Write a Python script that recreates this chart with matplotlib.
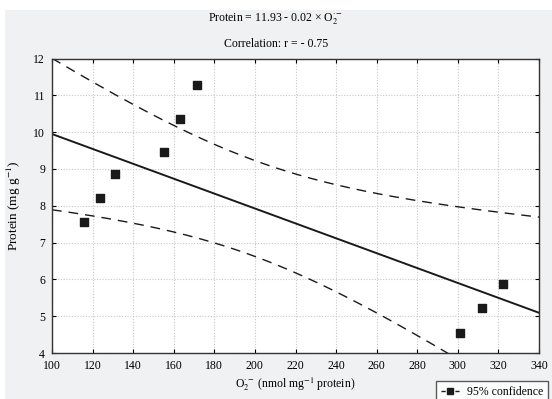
import numpy as np
import matplotlib.pyplot as plt
from matplotlib.lines import Line2D
from matplotlib.patches import Rectangle

plt.rcParams['font.family'] = 'Liberation Serif'
plt.rcParams['mathtext.fontset'] = 'stix'

# data
o2 = [115.8, 123.6, 131.0, 155.2, 163.1, 171.6, 301.1, 311.9, 322.2]
protein = [7.57, 8.22, 8.87, 9.46, 10.37, 11.27, 4.55, 5.23, 5.88]
x_ticks = [100, 120, 140, 160, 180, 200, 220, 240, 260, 280, 300, 320, 340]
y_ticks = [4, 5, 6, 7, 8, 9, 10, 11, 12]

x = np.array(o2)
y = np.array(protein)
n = len(x)
slope, intercept = np.polyfit(x, y, 1)
xs = np.linspace(100, 340, 300)
fit = intercept + slope * xs
resid = y - (intercept + slope * x)
s = np.sqrt(np.sum(resid ** 2) / (n - 2))
t = 2.3646  # t(0.975, df=7)
se = s * np.sqrt(1 / n + (xs - x.mean()) ** 2 / np.sum((x - x.mean()) ** 2))

fig = plt.figure(figsize=(5.52, 3.99), dpi=100)
fig.patches.append(Rectangle((5 / 552, 0), 1, 389 / 399, transform=fig.transFigure,
                             facecolor='#f0f1f3', edgecolor='none', zorder=-10))
ax = fig.add_axes([52 / 552, 1 - 353 / 399, 487 / 552, 294.5 / 399])

ax.plot(xs, fit, color='#1a1a1a', lw=1.4)
ax.plot(xs, fit + t * se, color='#1a1a1a', lw=1.0, dashes=(7, 5))
ax.plot(xs, fit - t * se, color='#1a1a1a', lw=1.0, dashes=(7, 5))
ax.scatter(x, y, marker='s', s=30, color='#1a1a1a', zorder=3)

ax.set_xlim(100, 340)
ax.set_ylim(4, 12)
ax.set_xticks(x_ticks)
ax.set_yticks(y_ticks)
ax.grid(True, color='#c8c8c8', ls=(0, (1, 1.5)), lw=0.8)
ax.tick_params(direction='in', top=True, right=True, labelsize=8.5, length=3, pad=5)
for sp in ax.spines.values():
    sp.set_color('#333333')
    sp.set_linewidth(1.0)

ax.set_xlabel('O$_2^{\\cdot-}$ (nmol mg$^{-1}$ protein)', fontsize=8.5, labelpad=3)
ax.set_ylabel('Protein (mg g$^{-1}$)', fontsize=9.5, labelpad=7)

fig.text(0.5, 1 - 19 / 399, 'Protein = 11.93 - 0.02 × O$_2^{\\cdot-}$', ha='center', va='center', fontsize=8.5)
fig.text(0.5, 1 - 44 / 399, 'Correlation: r = - 0.75', ha='center', va='center', fontsize=8.5)

handle = Line2D([], [], color='#1a1a1a', lw=1.0, dashes=(3, 2), marker='s', markersize=5)
fig.legend([handle], ['95% confidence'], loc='upper left', bbox_to_anchor=(436 / 552, 1 - 381 / 399),
           frameon=True, fancybox=False, edgecolor='#333333', facecolor='white', fontsize=8.5,
           handlelength=1.6, handletextpad=0.6, borderpad=0.4, borderaxespad=0)

fig.savefig('out.png', dpi=100)
